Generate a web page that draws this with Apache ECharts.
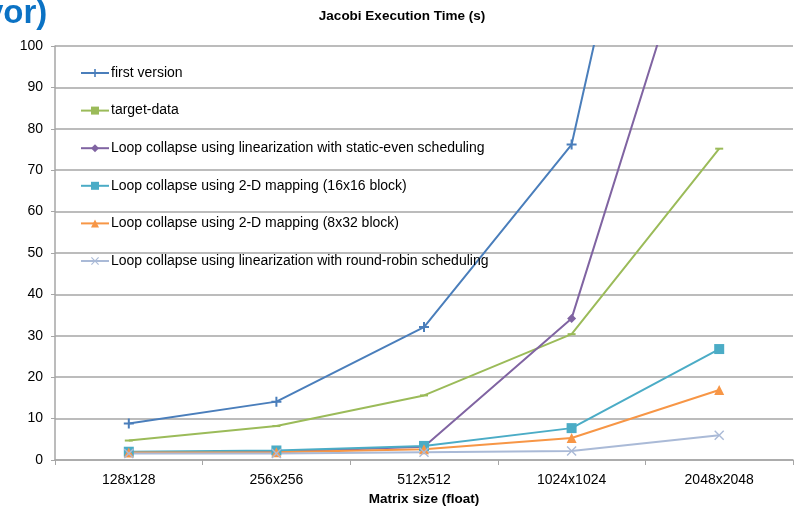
<!DOCTYPE html>
<html><head><meta charset="utf-8">
<script src="https://cdn.jsdelivr.net/npm/echarts@6/dist/echarts.min.js"></script>
<style>html,body{margin:0;padding:0;background:#fff}#c{width:794px;height:508px}</style>
</head><body><div id="c"></div>
<script>
const categories = ['128x128','256x256','512x512','1024x1024','2048x2048'];
const firstVersion = [8.8, 14.1, 32.1, 76.2, 235];
const targetData = [4.7, 8.2, 15.6, 30.4, 75.2];
const staticEven = [1.8, 2.0, 3.2, 34.2, 148];
const map16x16 = [2.0, 2.3, 3.4, 7.7, 26.8];
const map8x32 = [1.8, 1.9, 2.6, 5.3, 16.9];
const roundRobin = [1.6, 1.6, 1.9, 2.2, 6.0];
const names = ['first version','target-data','Loop collapse using linearization with static-even scheduling','Loop collapse using 2-D mapping (16x16 block)','Loop collapse using 2-D mapping (8x32 block)','Loop collapse using linearization with round-robin scheduling'];
const yTicks = [0,10,20,30,40,50,60,70,80,90,100];

const FONT = '"Liberation Sans", Arial, sans-serif';
const plusPath = 'path://M4,0H6V4H10V6H6V10H4V6H0V4H4Z';
const crossPath = 'path://M1,0L5,4L9,0L10,1L6,5L10,9L9,10L5,6L1,10L0,9L4,5L0,1Z';
function s(name, data, color, symbol, size){
  return {name, type:'line', data, clip:true, color,
    lineStyle:{width:2, color}, itemStyle:{color},
    symbol, symbolSize:size, showSymbol:true, animation:false};
}
const chart = echarts.init(document.getElementById('c'), null, {renderer:'canvas'});
chart.setOption({
  animation:false,
  title:{text:'Jacobi Execution Time (s)', left:402, top:9, textAlign:'center', padding:0,
    textStyle:{fontFamily:FONT, fontSize:13.5, fontWeight:'bold', color:'#000'}},
  graphic:[{type:'text', left:-15, top:-3, style:{text:'vor)', font:'bold 33px "Liberation Sans", Arial, sans-serif', fill:'#0B72C4'}}],
  grid:{left:55, right:1, top:46, bottom:48, containLabel:false, outerBoundsMode:'none'},
  legend:{orient:'vertical', left:80, top:65, padding:0, itemWidth:28, itemHeight:10, itemGap:21.6,
    textStyle:{fontFamily:FONT, fontSize:14, color:'#000', lineHeight:16, padding:[0,0,0,-3]},
    data:names},
  xAxis:{type:'category', data:categories, boundaryGap:true,
    name:'Matrix size (float)', nameLocation:'middle', nameGap:32,
    nameTextStyle:{fontFamily:FONT, fontSize:13.5, fontWeight:'bold', color:'#000'},
    axisLine:{lineStyle:{color:'#a6a6a6', width:1.5}},
    axisTick:{show:true, length:5, lineStyle:{color:'#a6a6a6'}},
    axisLabel:{fontFamily:FONT, fontSize:14, color:'#000', margin:13}},
  yAxis:{type:'value', min:yTicks[0], max:yTicks[yTicks.length-1], interval:10,
    axisLine:{show:true, lineStyle:{color:'#a6a6a6', width:1.5}},
    axisTick:{show:true, length:4, lineStyle:{color:'#a6a6a6'}},
    splitLine:{lineStyle:{color:'#a6a6a6', width:1.5}},
    axisLabel:{fontFamily:FONT, fontSize:14, color:'#000', margin:12}},
  series:[
    s(names[0], firstVersion, '#4A7EBB', plusPath, 10),
    s(names[1], targetData, '#9BBB59', 'rect', [8,2]),
    s(names[2], staticEven, '#8064A2', 'diamond', 9),
    s(names[3], map16x16, '#4BACC6', 'rect', 10),
    s(names[4], map8x32, '#F79646', 'triangle', 10),
    s(names[5], roundRobin, '#AABAD7', crossPath, 10)
  ]
});
</script></body></html>
